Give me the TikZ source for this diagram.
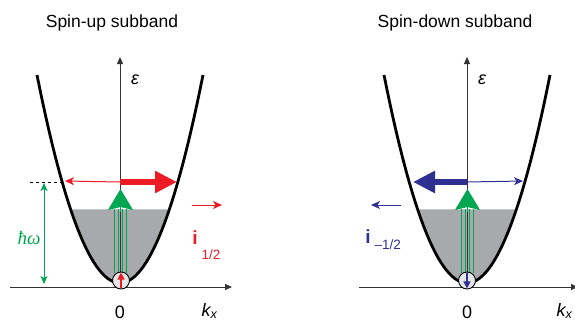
\documentclass[tikz,border=0pt]{standalone}
\usepackage{fontspec}
\setmainfont{Liberation Sans}
\newfontfamily\symfont{Liberation Serif}
\usetikzlibrary{arrows.meta}

\definecolor{spinred}{HTML}{ED1C24}
\definecolor{spinblue}{HTML}{2E3192}
\definecolor{pumpgreen}{HTML}{00A651}
\definecolor{fermigray}{HTML}{A7A9AC}
\definecolor{dotgray}{HTML}{E6E7E8}

\begin{document}
\begin{tikzpicture}[
    x=1pt, y=-1pt,
    axis/.style={draw=black!80, line width=0.9pt, -{Triangle[length=7pt,width=6pt]}},
    band/.style={line width=2.8pt},
    fat/.style={line width=6.5pt, -{Triangle[length=22pt,width=21pt]}},
    thin/.style={line width=1pt, -{Stealth[length=9pt,width=8pt,inset=2.5pt]}},
    pump/.style={pumpgreen, line width=0.8pt},
    pumphead/.style={pumpgreen, line width=0.8pt, -{Stealth[length=21pt,width=25pt,inset=3pt]}},
    spin/.style={circle, draw=black, line width=0.9pt, fill=dotgray, minimum size=17pt, inner sep=0pt},
    title/.style={font=\fontsize{17.5}{20}\selectfont},
    lbl/.style={font=\fontsize{18}{20}\selectfont},
    cur/.style={font=\fontsize{19}{21}\selectfont\bfseries},
    sub/.style={font=\fontsize{13.5}{15}\selectfont}
]
    \useasboundingbox (0,0) rectangle (575,322);

    % Axes coordinates
    \coordinate (o1) at (120, 287);
    \coordinate (xl1) at (10, 287);
    \coordinate (xr1) at (232, 287);
    \coordinate (et1) at (120, 57);
    \coordinate (o2) at (467, 287);
    \coordinate (xl2) at (359, 287);
    \coordinate (xr2) at (578, 287);
    \coordinate (et2) at (467, 57);

    % Arrow coordinates
    \coordinate (h1) at (120, 182);
    \coordinate (fr1) at (177, 182);
    \coordinate (tl1) at (65, 181);
    \coordinate (h2) at (467, 182);
    \coordinate (fl2) at (413, 182);
    \coordinate (tr2) at (523, 181);
    \coordinate (dl1) at (30, 182);
    \coordinate (dr1) at (62, 182);
    \coordinate (wt1) at (44, 183);
    \coordinate (wb1) at (44, 284);
    \coordinate (cl1) at (192, 205);
    \coordinate (cr1) at (222, 205);
    \coordinate (cl2) at (401, 205);
    \coordinate (cr2) at (371, 205);

    % Filled states
    \fill[fermigray] plot[domain=-49.4:49.4, samples=40] ({120+\x}, {283-0.0302*\x*\x}) -- cycle;
    \fill[fermigray] plot[domain=-49.4:49.4, samples=40] ({467+\x}, {283-0.0302*\x*\x}) -- cycle;

    % Axes
    \draw[axis] (xl1) -- (xr1);
    \draw[axis] (o1) -- (et1);
    \draw[axis] (xl2) -- (xr2);
    \draw[axis] (o2) -- (et2);

    % Subbands
    \draw[band] plot[domain=-83:83, samples=60] ({120+\x}, {283-0.0302*\x*\x});
    \draw[band] plot[domain=-83:83, samples=60] ({467+\x}, {283-0.0302*\x*\x});

    % Optical transitions (green)
    \foreach \dx in {-6.2, -2, 2, 6.2} {
        \draw[pump] (120.5+\dx, 273) -- (120.5+\dx, 209);
        \draw[pump] (467.5+\dx, 273) -- (467.5+\dx, 209);
    }
    \draw[pumphead] (120.5, 212) -- (120.5, 189);
    \draw[pumphead] (467.5, 212) -- (467.5, 189);

    % Photon energy
    \draw[black, line width=1pt, dash pattern=on 3pt off 3pt] (dl1) -- (dr1);
    \draw[pumpgreen, line width=1pt, {Stealth[length=8pt,width=7pt,inset=2pt]}-{Stealth[length=8pt,width=7pt,inset=2pt]}] (wt1) -- (wb1);
    \node[pumpgreen, font=\fontsize{19}{21}\selectfont\symfont\itshape] (hw) at (29, 238) {ħω};

    % Spin-up branch
    \draw[thin, spinred] (h1) -- (tl1);
    \draw[fat, spinred] (h1) -- (fr1);
    \draw[thin, spinred] (cl1) -- (cr1);
    \node[cur, spinred] (i1) at (195, 238) {i};
    \node[sub, spinred, anchor=west] (j1) at (198, 255) {1/2};

    % Spin-down branch
    \draw[thin, spinblue] (h2) -- (tr2);
    \draw[fat, spinblue] (h2) -- (fl2);
    \draw[thin, spinblue] (cl2) -- (cr2);
    \node[cur, spinblue] (i2) at (368, 237) {i};
    \node[sub, spinblue, anchor=west] (j2) at (371, 245) {\textendash1/2};

    % Spins at k = 0
    \node[spin] (s1) at (121, 280.5) {};
    \draw[spinred, line width=1.3pt, -{Triangle[length=7pt,width=7pt]}, shorten <=1.5pt, shorten >=1pt] (s1.south) -- (s1.north);
    \node[spin] (s2) at (467, 280.5) {};
    \draw[spinblue, line width=1.3pt, -{Triangle[length=7pt,width=7pt]}, shorten <=1.5pt, shorten >=1pt] (s2.north) -- (s2.south);

    % Titles and axis labels
    \node[title] (t1) at (112, 23) {Spin-up subband};
    \node[title] (t2) at (455, 23) {Spin-down subband};
    \node[lbl] (e1) at (135, 80) {\itshape ε};
    \node[lbl] (e2) at (482, 80) {\itshape ε};
    \node[lbl] (z1) at (120, 312) {0};
    \node[lbl] (z2) at (467, 312) {0};
    \node[lbl, anchor=west] (k1) at (198, 311) {\itshape k\textsubscript{x}};
    \node[lbl, anchor=west] (k2) at (553, 311) {\itshape k\textsubscript{x}};

\end{tikzpicture}
\end{document}
